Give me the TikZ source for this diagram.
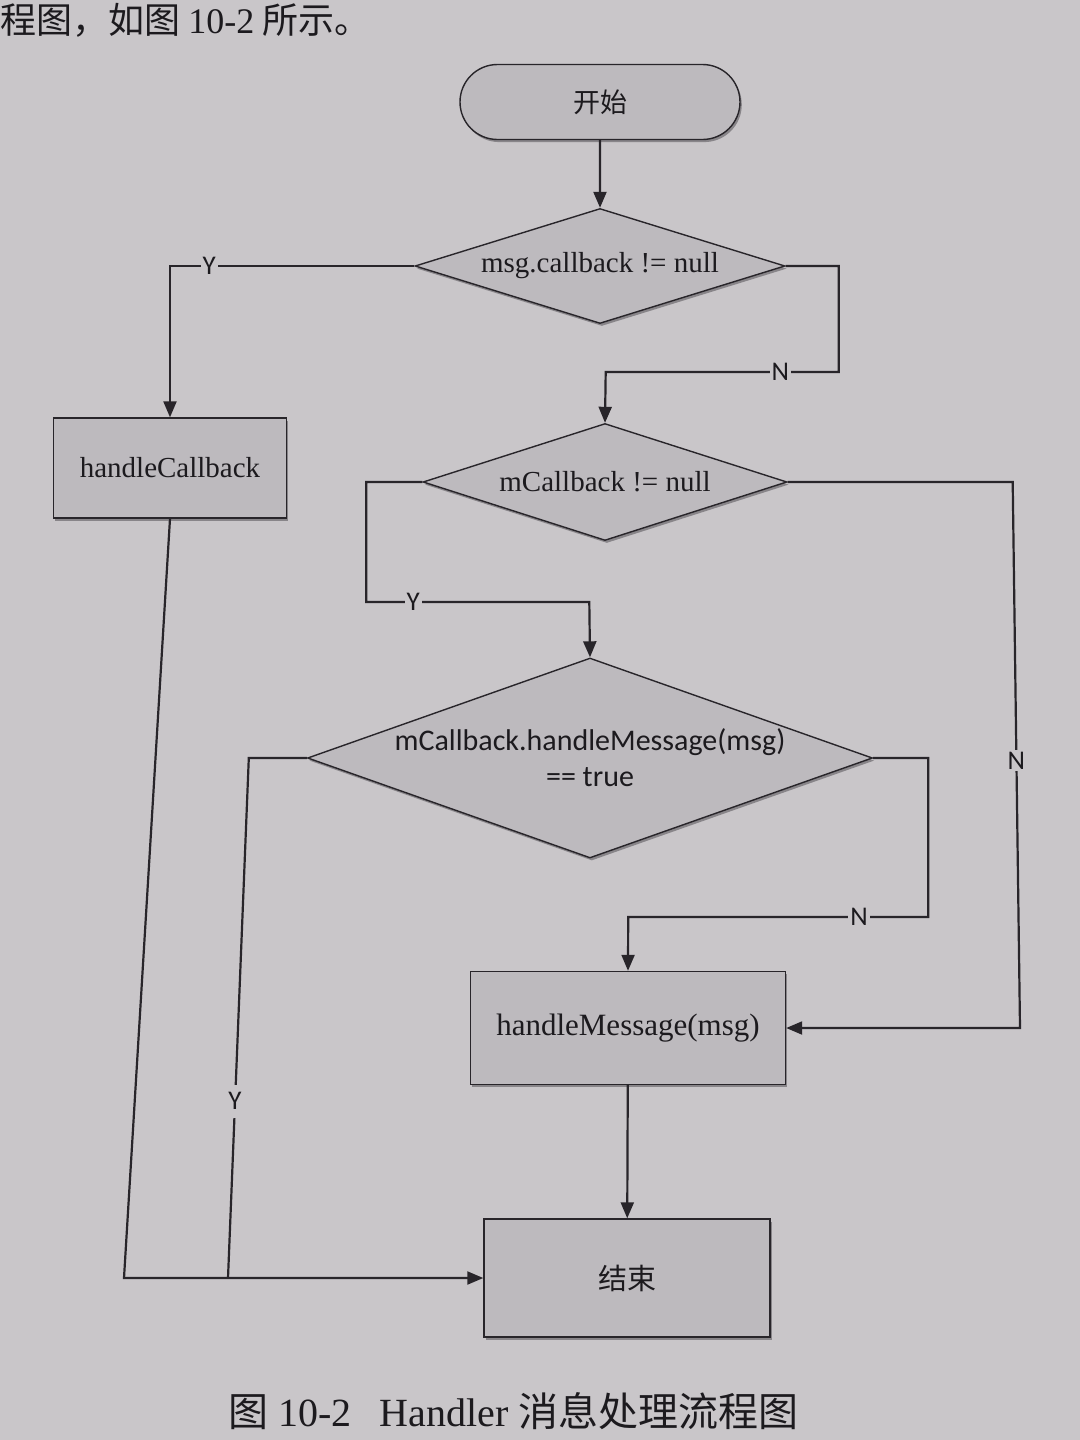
\documentclass[tikz,border=0pt]{standalone}
\usepackage{fontspec}
\setmainfont{Liberation Serif}
\newfontfamily\cjkf{Noto Sans CJK SC}
\newfontfamily\calib{Carlito}
\usetikzlibrary{shapes.geometric,shapes.misc,arrows.meta,shadows}
\definecolor{paper}{RGB}{201,198,201}
\definecolor{boxfill}{RGB}{189,186,190}
\definecolor{ink}{RGB}{40,37,42}
\definecolor{txt}{RGB}{28,26,30}
\begin{document}
\begin{tikzpicture}[x=0.5pt,y=-0.5pt,
  base/.style={draw=ink, line width=0.7pt, fill=boxfill, text=txt, inner sep=0pt,
    drop shadow={shadow xshift=0.9pt,shadow yshift=-1.3pt,fill=ink,opacity=0.4}},
  proc/.style={base, rectangle},
  dec/.style={base, diamond},
  term/.style={base, rounded rectangle},
  arr/.style={-{Triangle[length=8pt,width=6.5pt]}},
  conn/.style={draw=ink, line width=1.1pt},
  lbl/.style={fill=paper, inner sep=1pt, text=txt, font=\calib\fontsize{13.5}{16}\selectfont},
  serif/.style={font=\fontsize{14.5}{17}\selectfont},
]
\fill[paper] (0,0) rectangle (1080,1440);
\useasboundingbox (0,0) rectangle (1080,1440);
\clip (0,0) rectangle (1080,1440);

% text line at the top of the page
\node[anchor=base west, inner sep=0pt, text=txt, font=\cjkf\fontsize{18}{22}\selectfont] (toptext) at (0,33) {程图，如图 {\rmfamily 10-2} 所示。};

% nodes
\node[term, minimum width=140pt, minimum height=37.5pt, font=\cjkf\fontsize{13.5}{16}\selectfont] (start) at (600,102) {开始};
\node[dec, aspect=3.2, minimum width=185pt, minimum height=57.5pt, serif] (d1) at (600,266) {msg.callback != null};
\node[proc, minimum width=116.5pt, minimum height=50pt, serif] (hc) at (170,468) {handleCallback};
\node[dec, aspect=3.1, minimum width=182pt, minimum height=58.5pt, serif] (d2) at (605,482) {mCallback != null};
\node[dec, aspect=2.8, inner xsep=-6pt, inner ysep=-2pt, minimum width=282.5pt, minimum height=100pt, font=\calib\fontsize{15}{18}\selectfont, align=center] (d3) at (590,758) {mCallback.handleMessage(msg)\\== true};
\node[proc, minimum width=157.5pt, minimum height=56.5pt, font=\fontsize{15.5}{18}\selectfont] (hm) at (628,1028) {handleMessage(msg)};
\node[proc, minimum width=143pt, minimum height=59pt, font=\cjkf\fontsize{14.5}{17}\selectfont] (end) at (627,1278) {结束};

% connectors
\draw[conn,arr] (start) -- (d1);
\draw[conn,arr] (d1.west) -| node[lbl,pos=0.42]{Y} (hc.north);
\draw[conn,arr] (d1.east) -- ++(53,0) -- ++(0,106) -- node[lbl,pos=0.25]{N} ++(-233,0) -- (d2.north);
\draw[conn,arr] (d2.west) -- ++(-56,0) -- ++(0,120) -- node[lbl,pos=0.21]{Y} ++(223,0) -- (d3.north);
\draw[conn,arr] (d2.east) -- ++(225,0) -- node[lbl,pos=0.51]{N} (1020,1028) -- (hm.east);
\draw[conn,arr] (d3.east) -- ++(55,0) -- ++(0,159) -- node[lbl,pos=0.23]{N} ++(-300,0) -- (hm.north);
\draw[conn,arr] (hm) -- (end);
\draw[conn,arr] (hc.south) -- (124,1278) -- (end.west);
\draw[conn] (d3.west) -- ++(-58,0) -- node[lbl,pos=0.66,inner ysep=4pt]{Y} (228,1278);

% caption
\node[anchor=base west, inner sep=0pt, text=txt, font=\fontsize{20}{24}\selectfont] (cap) at (228,1426) {{\cjkf 图} 10-2\hspace{14pt}Handler {\cjkf 消息处理流程图}};
\end{tikzpicture}
\end{document}
